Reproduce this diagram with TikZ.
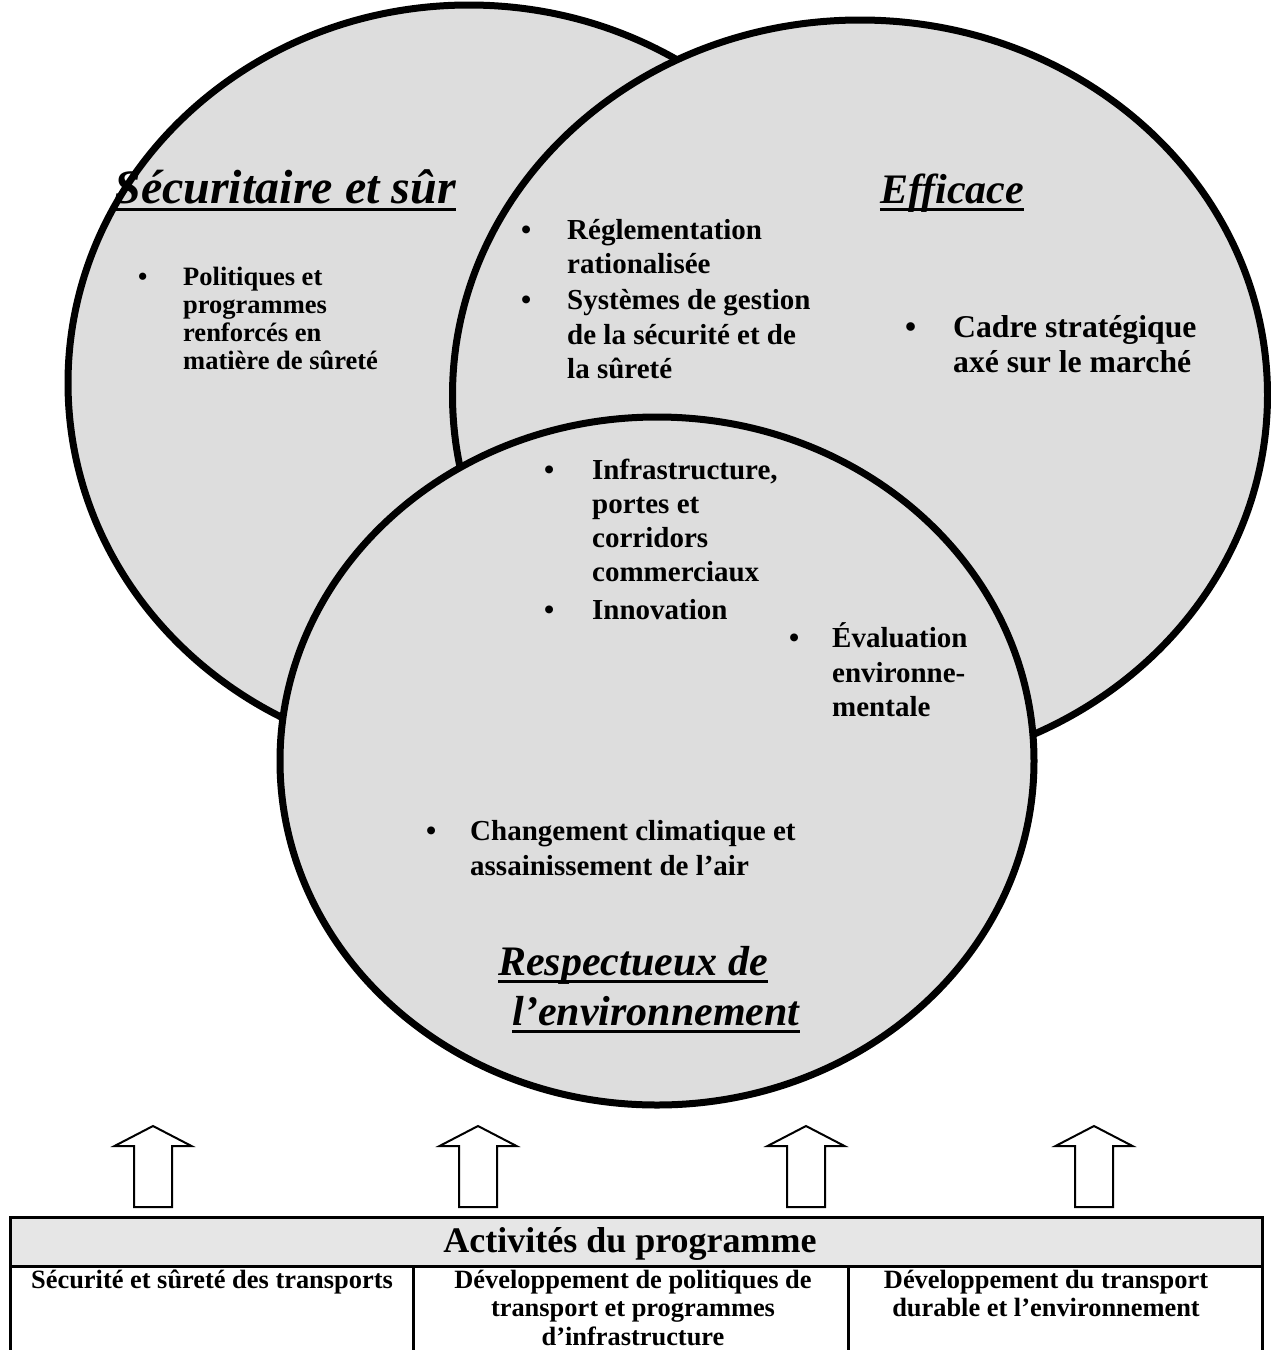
\documentclass[tikz,border=0pt]{standalone}
\usepackage{fontspec}
\setmainfont{Liberation Serif}
\definecolor{vgray}{HTML}{DDDDDD}
\definecolor{hgray}{HTML}{E6E6E6}
\begin{document}
\begin{tikzpicture}[x=1pt,y=-1pt,
  venn/.style={fill=vgray,draw=black,line width=7pt},
  ttl/.style={font=\fontsize{42}{50}\selectfont\bfseries\itshape,inner sep=0pt,anchor=base},
  uline/.style={line width=3pt},
  sm/.style={font=\fontsize{26.5}{28}\selectfont\bfseries,inner sep=0pt,anchor=base west},
  md/.style={font=\fontsize{29}{34}\selectfont\bfseries,inner sep=0pt,anchor=base west},
  lg/.style={font=\fontsize{31.7}{35}\selectfont\bfseries,inner sep=0pt,anchor=base west},
  bul/.style={inner sep=0pt,anchor=base west},
  tbl/.style={line width=3pt},
  hdr/.style={font=\fontsize{36}{40}\selectfont\bfseries,inner sep=0pt,anchor=base},
  cell/.style={font=\fontsize{26.4}{29}\selectfont\bfseries,inner sep=0pt,anchor=base},
  arr/.style={draw=black,fill=white,line width=2pt,line join=miter}]
\useasboundingbox (0,0) rectangle (1271,1350);
\fill[white] (0,0) rectangle (1271,1350);

% circles
\draw[venn] (469,383) ellipse [x radius=401pt, y radius=378pt];
\draw[venn] (860,395) ellipse [x radius=407.5pt, y radius=375pt];
\draw[venn] (657,761) ellipse [x radius=377pt, y radius=344pt];

% titles
\node[ttl,font=\fontsize{48}{50}\selectfont\bfseries\itshape] (t1) at (285,203) {Sécuritaire et sûr};
\draw[uline] ([yshift=-6pt]t1.base west) -- ([yshift=-6pt]t1.base east);
\node[ttl] (t2) at (952,203) {Efficace};
\draw[uline] ([yshift=-6pt]t2.base west) -- ([yshift=-6pt]t2.base east);
\node[ttl] (t3a) at (633,975) {Respectueux de};
\draw[uline] ([yshift=-6pt]t3a.base west) -- ([yshift=-6pt]t3a.base east);
\node[ttl] (t3b) at (656,1025) {l’environnement};
\draw[uline] ([yshift=-6pt]t3b.base west) -- ([yshift=-6pt]t3b.base east);

% left circle
\node[sm,bul] (b1) at (138,285) {\textbullet};
\foreach \t [count=\i] in {Politiques et,programmes,renforcés en,matière de sûreté}
  \node[sm] (pol\i) at (183,{285+28.3*(\i-1)}) {\t};

% right circle
\node[md,bul] (b2) at (521,239) {\textbullet};
\node[md] (reg1) at (567,239) {Réglementation};
\node[md] (reg2) at (567,273) {rationalisée};
\node[md,bul] (b3) at (521,309) {\textbullet};
\node[md] (sys1) at (567,309) {Systèmes de gestion};
\node[md] (sys2) at (567,344) {de la sécurité et de};
\node[md] (sys3) at (567,378) {la sûreté};
\node[lg,bul] (b4) at (905,337) {\textbullet};
\node[lg] (cad1) at (953,337) {Cadre stratégique};
\node[lg] (cad2) at (953,372) {axé sur le marché};

% bottom circle
\node[md,bul] (b5) at (544,479) {\textbullet};
\foreach \t [count=\i] in {Infrastructure\rlap{,},portes et,corridors,commerciaux}
  \node[md] (inf\i) at (592,{479+34.3*(\i-1)}) {\t};
\node[md,bul] (b6) at (544,619) {\textbullet};
\node[md] (inn) at (592,619) {Innovation};
\node[md,bul] (b7) at (789,647) {\textbullet};
\node[md] (eva1) at (832,647) {Évaluation};
\node[md] (eva2) at (832,682) {environne-};
\node[md] (eva3) at (832,716) {mentale};
\node[md,bul] (b8) at (426,840) {\textbullet};
\node[md] (chg1) at (470,840) {Changement climatique et};
\node[md] (chg2) at (470,875) {assainissement de l’air};

% arrows
\foreach \cx in {153,478,806,1094}
  \draw[arr] (\cx,1126) -- (\cx+38.5,1146) -- (\cx+19,1146) -- (\cx+19,1207)
    -- (\cx-19,1207) -- (\cx-19,1146) -- (\cx-38.5,1146) -- cycle;

% table
\fill[hgray] (10,1217) rectangle (1262,1266);
\draw[tbl] (10,1352) -- (10,1217) -- (1262,1217) -- (1262,1352);
\draw[tbl] (10,1266) -- (1262,1266);
\draw[tbl] (413,1266) -- (413,1352);
\draw[tbl] (848,1266) -- (848,1352);
\node[hdr] (hd) at (630,1252) {Activités du programme};
\node[cell] (c1) at (212,1288) {Sécurité et sûreté des transports};
\node[cell] (c2a) at (633,1288) {Développement de politiques de};
\node[cell] (c2b) at (633,1316.5) {transport et programmes};
\node[cell] (c2c) at (633,1345) {d’infrastructure};
\node[cell] (c3a) at (1046,1288) {Développement du transport};
\node[cell] (c3b) at (1046,1316.5) {durable et l’environnement};
\end{tikzpicture}
\end{document}
